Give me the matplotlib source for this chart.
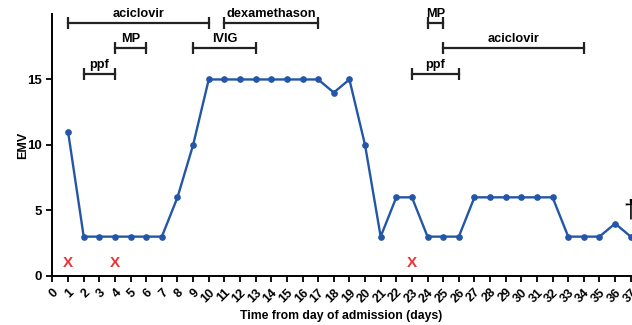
import matplotlib.pyplot as plt

plt.rcParams['font.family'] = ['Liberation Sans', 'DejaVu Sans']
plt.rcParams['font.weight'] = 'bold'

# EMV per day
days = list(range(1, 38))
emv = [11, 3, 3, 3, 3, 3, 3, 6, 10, 15, 15, 15, 15, 15, 15, 15, 15, 14, 15, 10,
       3, 6, 6, 3, 3, 3, 6, 6, 6, 6, 6, 6, 3, 3, 3, 4, 3]

# treatment periods: name, start day, end day, level
treat_names = ['aciclovir', 'MP', 'ppf', 'IVIG', 'dexamethason', 'MP', 'aciclovir', 'ppf']
treat_start = [1, 4, 2, 9, 11, 24, 25, 23]
treat_end = [10, 6, 4, 13, 17, 25, 34, 26]
treat_level = [19.3, 17.4, 15.4, 17.4, 19.3, 19.3, 17.4, 15.4]

# days marked with a red X
x_days = [1, 4, 23]
x_level = 1.0

fig = plt.figure(figsize=(6.32, 3.25), dpi=100)
ax = fig.add_axes([0.083, 0.151, 0.915, 0.806])

# main line
ax.plot(days, emv, color='#2456a8', lw=1.7, marker='o', ms=3.8, zorder=3, clip_on=False)

# treatment bars
for name, s, e, lv in zip(treat_names, treat_start, treat_end, treat_level):
    ax.plot([s, e], [lv, lv], color='#222222', lw=1.6, clip_on=False)
    ax.plot([s, e], [lv, lv], ls='none', marker='|', ms=8, mew=1.6, color='#222222', clip_on=False)
    ax.text((s + e) / 2, lv + 0.25, name, ha='center', va='bottom', fontsize=9.2, fontweight='bold')

# red crosses
for d in x_days:
    ax.text(d, x_level, 'X', color='#ee3338', ha='center', va='center', fontsize=11, fontweight='bold')

# dagger at end
ax.text(36.95, 5, '†', ha='center', va='center', fontsize=18, fontweight='normal', clip_on=False)

ax.set_xlim(0, 37)
ax.set_ylim(0, 20)
ax.set_xticks(range(0, 38))
ax.set_xticklabels([str(i) for i in range(0, 38)], rotation=45, ha='right',
                   rotation_mode='anchor', fontsize=9, fontweight='bold')
ax.set_yticks([0, 5, 10, 15])
ax.set_yticklabels(['0', '5', '10', '15'], fontsize=9.5, fontweight='bold')
ax.spines['top'].set_visible(False)
ax.spines['right'].set_visible(False)
ax.spines['left'].set_linewidth(1.4)
ax.spines['bottom'].set_linewidth(1.4)
ax.tick_params(axis='both', width=1.3, length=4)
ax.set_xlabel('Time from day of admission (days)', fontsize=8.8, fontweight='bold', labelpad=4)
ax.set_ylabel('EMV', fontsize=9, fontweight='bold', labelpad=-1)

fig.savefig('out.png', dpi=100)
